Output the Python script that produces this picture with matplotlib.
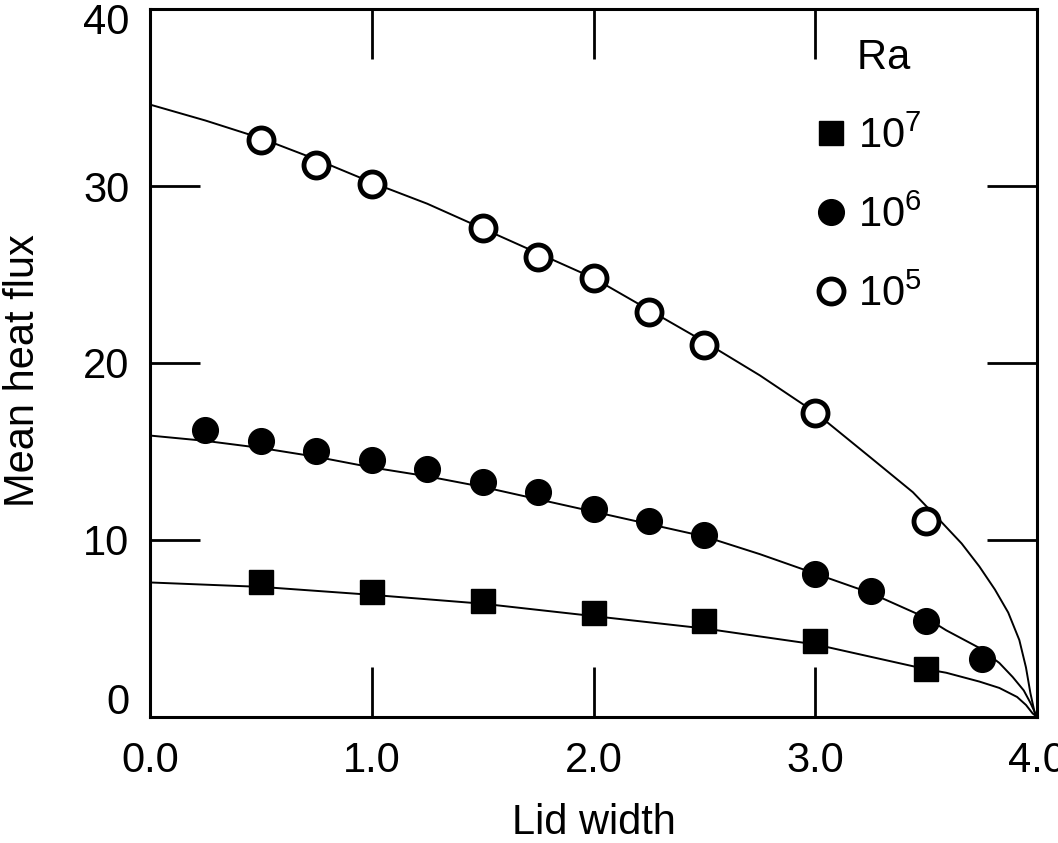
import matplotlib
matplotlib.use("Agg")
import matplotlib.pyplot as plt
from matplotlib.transforms import ScaledTranslation

plt.rcParams['font.family'] = ['Liberation Sans', 'DejaVu Sans']
plt.rcParams['mathtext.fontset'] = 'custom'
plt.rcParams['mathtext.rm'] = 'Liberation Sans'

# measured points
ra7_x = [0.5, 1.0, 1.5, 2.0, 2.5, 3.0, 3.5]
ra7_y = [7.6, 7.05, 6.55, 5.9, 5.4, 4.3, 2.7]

ra6_x = [0.25, 0.5, 0.75, 1.0, 1.25, 1.5, 1.75, 2.0, 2.25, 2.5, 3.0, 3.25, 3.5, 3.75]
ra6_y = [16.2, 15.6, 15.0, 14.5, 14.0, 13.3, 12.7, 11.75, 11.1, 10.3, 8.1, 7.1, 5.4, 3.3]

ra5_x = [0.5, 0.75, 1.0, 1.5, 1.75, 2.0, 2.25, 2.5, 3.0, 3.5]
ra5_y = [32.6, 31.2, 30.1, 27.6, 26.0, 24.8, 22.9, 21.0, 17.2, 11.1]

# fitted curves
fit5_x = [0, 0.25, 0.5, 0.75, 1.0, 1.25, 1.5, 1.75, 2.0, 2.25, 2.5, 2.75, 3.0,
          3.25, 3.44, 3.57, 3.66, 3.74, 3.81, 3.87, 3.92, 3.95, 3.97, 3.99, 4.0]
fit5_y = [34.6, 33.7, 32.7, 31.5, 30.2, 29.0, 27.6, 26.2, 24.8, 23.0, 21.2, 19.3, 17.2,
          14.65, 12.7, 11.0, 9.8, 8.5, 7.2, 5.9, 4.35, 2.8, 1.35, 0.2, 0]

fit6_x = [0, 0.25, 0.5, 0.75, 1.0, 1.25, 1.5, 1.75, 2.0, 2.25, 2.5, 2.75, 3.0,
          3.25, 3.5, 3.59, 3.74, 3.83, 3.89, 3.94, 3.97, 4.0]
fit6_y = [15.9, 15.6, 15.2, 14.7, 14.1, 13.6, 13.0, 12.3, 11.6, 10.9, 10.2, 9.2, 8.1,
          7.0, 5.6, 4.9, 3.9, 3.05, 2.26, 1.5, 0.8, 0]

fit7_x = [0, 0.5, 1.0, 1.5, 2.0, 2.5, 3.0, 3.25, 3.5, 3.59, 3.74, 3.83, 3.91, 3.95, 3.98, 4.0]
fit7_y = [7.6, 7.35, 6.9, 6.4, 5.7, 5.0, 4.1, 3.4, 2.7, 2.5, 2.0, 1.64, 1.13, 0.68, 0.2, 0]

x_ticks = [0, 1, 2, 3, 4]
x_labels = ["0.0", "1.0", "2.0", "3.0", "4.0"]
y_ticks = [0, 10, 20, 30, 40]

fs = 30

fig = plt.figure(figsize=(10.58, 8.43), dpi=100)
ax = fig.add_axes([0.1418, 0.1495, 0.8384, 0.8398])

ax.plot(fit5_x, fit5_y, color="black", lw=1.4)
ax.plot(fit6_x, fit6_y, color="black", lw=1.4)
ax.plot(fit7_x, fit7_y, color="black", lw=1.4)

ax.plot(ra7_x, ra7_y, "s", color="black", ms=17, label=r"$\mathregular{10^7}$")
ax.plot(ra6_x, ra6_y, "o", color="black", ms=18.5, label=r"$\mathregular{10^6}$")
ax.plot(ra5_x, ra5_y, "o", mfc="white", mec="black", mew=3.5, ms=18,
        label=r"$\mathregular{10^5}$")

ax.set_xlim(0, 4)
ax.set_ylim(0, 40)
ax.set_xticks(x_ticks)
ax.set_xticklabels(x_labels)
ax.set_yticks(y_ticks)
ax.tick_params(direction="in", length=36, width=2, top=True, right=True,
               labelsize=fs)
ax.tick_params(axis="x", pad=17)
ax.tick_params(axis="y", pad=15)
for s in ax.spines.values():
    s.set_linewidth(2.2)

# end labels pulled inside the figure like the original
ylabs = ax.get_yticklabels()
ylabs[0].set_va("bottom")
ylabs[0].set_transform(ylabs[0].get_transform()
                       + ScaledTranslation(0, -6 / 100, fig.dpi_scale_trans))
ylabs[-1].set_va("top")
ylabs[-1].set_transform(ylabs[-1].get_transform()
                        + ScaledTranslation(0, 6 / 100, fig.dpi_scale_trans))

ax.set_xlabel("Lid width", fontsize=fs)
ax.set_ylabel("Mean heat flux", fontsize=fs)
ax.xaxis.set_label_coords(0.5, -0.121)
ax.yaxis.set_label_coords(-0.121, 0.49)

leg = ax.legend(title="Ra ", loc="upper right", bbox_to_anchor=(0.894, 0.988),
                frameon=False, fontsize=fs, title_fontsize=fs,
                handlelength=0.5, handletextpad=0.42, labelspacing=0.92,
                alignment="right", borderpad=0)

fig.savefig("out.png", dpi=100)
